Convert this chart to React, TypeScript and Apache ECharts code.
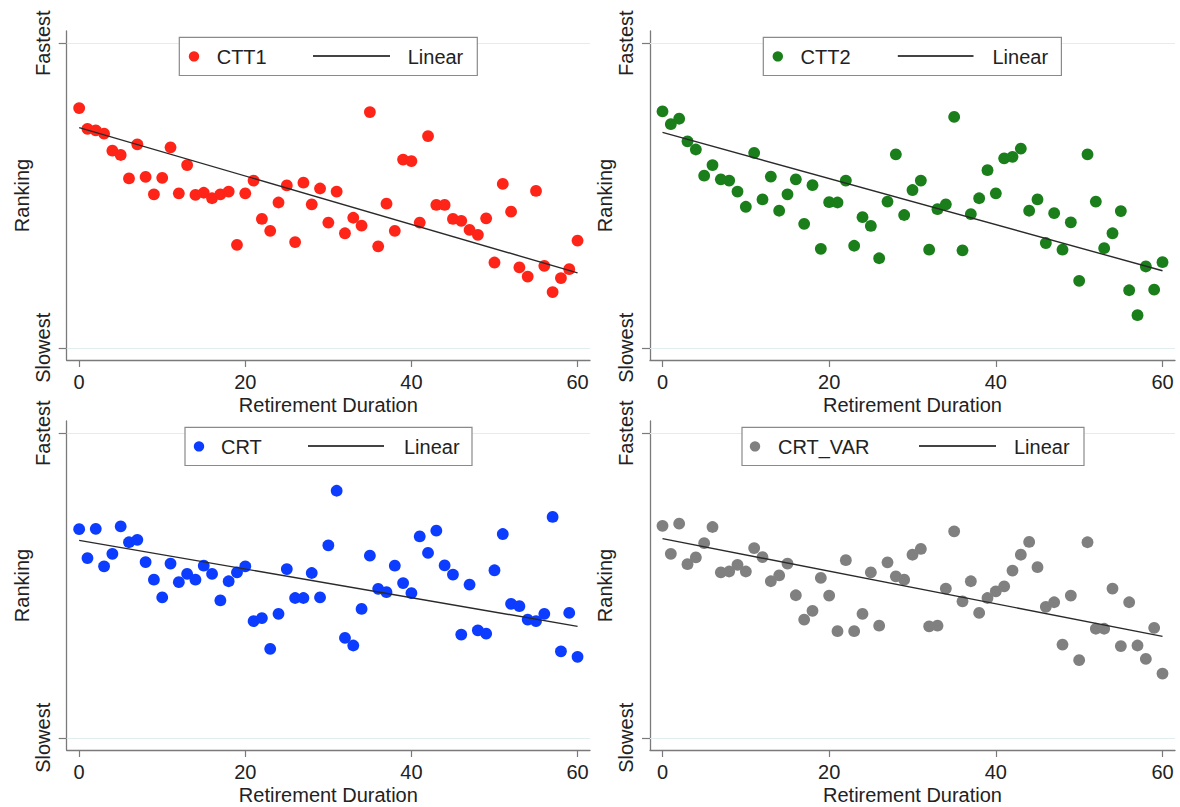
import React, { useEffect, useRef } from "react";
import * as echarts from "echarts";

// ---------- data ----------
const duration = [
  0, 1, 2, 3, 4, 5, 6, 7, 8, 9, 10, 11, 12, 13, 14, 15, 16, 17, 18, 19, 20,
  21, 22, 23, 24, 25, 26, 27, 28, 29, 30, 31, 32, 33, 34, 35, 36, 37, 38, 39, 40,
  41, 42, 43, 44, 45, 46, 47, 48, 49, 50, 51, 52, 53, 54, 55, 56, 57, 58, 59, 60,
];

const ctt1 = [
  78.7, 71.9, 71.4, 70.3, 64.7, 63.3, 55.6, 66.8, 56.1, 50.4,
  55.8, 65.8, 50.7, 60.0, 50.2, 50.9, 49.1, 50.4, 51.3, 33.8,
  50.7, 54.9, 42.3, 38.4, 47.7, 53.3, 34.7, 54.2, 47.1, 52.3,
  41.1, 51.3, 37.6, 42.7, 40.1, 77.4, 33.3, 47.3, 38.4, 61.8,
  61.3, 41.1, 69.5, 46.9, 46.9, 42.3, 41.7, 38.7, 37.1, 42.5,
  28.0, 53.8, 44.7, 26.4, 23.4, 51.5, 26.9, 18.3, 22.9, 25.8, 35.2,
];

const ctt2 = [
  77.6, 73.4, 75.2, 67.8, 65.1, 56.5, 60.0, 55.3, 54.9, 51.3,
  46.3, 64.0, 48.7, 56.2, 45.0, 50.4, 55.3, 40.7, 53.4, 32.5,
  47.8, 47.7, 54.9, 33.5, 42.9, 40.0, 29.4, 48.0, 63.5, 43.6,
  51.8, 54.9, 32.2, 45.5, 47.1, 75.8, 32.0, 43.9, 49.1, 58.3,
  50.7, 62.2, 62.7, 65.4, 45.0, 48.7, 34.4, 44.2, 32.2, 41.2,
  22.0, 63.5, 48.0, 32.7, 37.6, 44.9, 18.9, 10.7, 26.7, 19.1, 28.1,
];

const crt = [
  68.5, 59.0, 68.6, 56.3, 60.4, 69.4, 64.2, 65.0, 57.7, 51.9,
  46.1, 57.2, 51.1, 53.8, 51.9, 56.5, 53.8, 45.1, 51.4, 54.3,
  56.3, 38.3, 39.3, 29.2, 40.7, 55.4, 45.9, 45.9, 54.1, 46.1,
  63.2, 81.1, 32.8, 30.3, 42.3, 59.8, 48.9, 47.8, 56.5, 50.8,
  47.5, 66.1, 60.7, 68.0, 56.6, 53.6, 33.9, 50.3, 35.3, 34.2,
  55.0, 66.9, 44.0, 43.2, 38.8, 38.3, 40.7, 72.5, 28.4, 41.0, 26.6,
];

const crtVar = [
  69.6, 60.4, 70.3, 57.0, 59.2, 63.9, 69.2, 54.3, 54.6, 56.8,
  54.6, 62.3, 59.3, 51.4, 53.3, 57.2, 46.8, 38.8, 41.7, 52.5,
  46.7, 35.0, 58.3, 35.0, 40.7, 54.3, 36.8, 57.6, 53.0, 51.9,
  60.1, 62.0, 36.6, 36.8, 49.0, 67.8, 44.8, 51.4, 41.0, 45.9,
  48.1, 49.7, 54.9, 60.1, 64.3, 56.0, 43.0, 44.5, 30.6, 46.7,
  25.5, 64.2, 35.8, 35.8, 49.0, 30.1, 44.5, 30.3, 25.9, 36.1, 21.1,
];

// linear fit lines, read at both ends (x = 0 and x = 60)
const fitX = [0, 60];
const fitCtt1 = [72.3, 24.6];
const fitCtt2 = [70.7, 25.3];
const fitCrt = [64.8, 36.6];
const fitCrtVar = [65.4, 33.3];

const seriesNames = ["CTT1", "CTT2", "CRT", "CRT_VAR"];
const fitName = "Linear";
const xTicks = [0, 20, 40, 60];
const yTickValues = [0, 100];
const yTickLabels = ["Slowest", "Fastest"];
const xAxisName = "Retirement Duration";
const yAxisName = "Ranking";

// ---------- layout / styling ----------
const FONT = '"Liberation Sans", Arial, Helvetica, sans-serif';
const TEXT = "#222";
const AXIS = "#7a7a7a";
const colors = ["#ff2418", "#1a7f1a", "#0b3cff", "#808080"];

const grids = [
  { left: 66.7, top: 31, width: 523.3, height: 329 },
  { left: 650, top: 31, width: 525, height: 329 },
  { left: 66.7, top: 421, width: 523.3, height: 329 },
  { left: 650, top: 421, width: 525, height: 329 },
];

const legends = [
  { boxL: 179.3, boxR: 477.3, top: 37.3, bottom: 75.5, dot: 194, text: 216.7, l1: 313, l2: 390, lin: 407.7 },
  { boxL: 763.3, boxR: 1061.4, top: 37.3, bottom: 75.5, dot: 777.8, text: 800.5, l1: 897.8, l2: 973.5, lin: 992.5 },
  { boxL: 185, boxR: 472, top: 427.3, bottom: 465.5, dot: 199, text: 221, l1: 308, l2: 384, lin: 404 },
  { boxL: 742, boxR: 1084, top: 427.3, bottom: 465.5, dot: 755, text: 778, l1: 919, l2: 996, lin: 1014 },
];

export default function App() {
  const ref = useRef<HTMLDivElement>(null);

  useEffect(() => {
    if (!ref.current) return;
    const chart = echarts.init(ref.current, undefined, { renderer: "svg" });

    const values = [ctt1, ctt2, crt, crtVar];
    const fits = [fitCtt1, fitCtt2, fitCrt, fitCrtVar];

    const xAxes = grids.map((_, i) => ({
      type: "value",
      gridIndex: i,
      min: -1.5,
      max: 61.5,
      name: xAxisName,
      nameLocation: "middle",
      nameGap: 35,
      nameTextStyle: { fontSize: 20, color: TEXT, fontFamily: FONT },
      axisLine: { show: true, onZero: false, lineStyle: { color: AXIS, width: 1.3 } },
      axisTick: { show: true, length: 7, customValues: xTicks, lineStyle: { color: AXIS, width: 1.2 } },
      axisLabel: { show: true, customValues: xTicks, fontSize: 20, margin: 12, color: TEXT, fontFamily: FONT },
      splitLine: { show: false },
    }));

    const yAxes = grids.map((_, i) => ({
      type: "value",
      gridIndex: i,
      min: -4,
      max: 104,
      name: yAxisName,
      nameLocation: "middle",
      nameGap: 35,
      nameTextStyle: { fontSize: 20, color: TEXT, fontFamily: FONT },
      axisLine: { show: true, onZero: false, lineStyle: { color: AXIS, width: 1.3 } },
      axisTick: { show: true, length: 8, customValues: yTickValues, lineStyle: { color: AXIS, width: 1.2 } },
      axisLabel: {
        show: true,
        customValues: yTickValues,
        rotate: 90,
        fontSize: 20,
        margin: 14,
        color: TEXT,
        fontFamily: FONT,
        formatter: (v: number) => {
          const k = yTickValues.indexOf(Math.round(v));
          return k >= 0 ? yTickLabels[k] : "";
        },
      },
      splitLine: { show: false },
    }));

    const series: any[] = [];
    values.forEach((vals, i) => {
      series.push({
        type: "scatter",
        name: seriesNames[i],
        xAxisIndex: i,
        yAxisIndex: i,
        data: vals.map((v, k) => [duration[k], v]),
        symbol: "circle",
        symbolSize: 11.8,
        itemStyle: { color: colors[i], opacity: 1 },
        silent: true,
        z: 3,
        markLine: {
          silent: true,
          symbol: "none",
          label: { show: false },
          lineStyle: { color: "#e2edef", width: 1, type: "solid" },
          data: yTickValues.map((v) => ({ yAxis: v })),
          z: 1,
        },
      });
      series.push({
        type: "line",
        name: fitName,
        xAxisIndex: i,
        yAxisIndex: i,
        data: fitX.map((x, k) => [x, fits[i][k]]),
        showSymbol: false,
        symbol: "none",
        lineStyle: { color: "#2a2a2a", width: 1.4 },
        silent: true,
        z: 4,
      });
    });

    const graphic: any[] = [];
    legends.forEach((lg, i) => {
      const cy = (lg.top + lg.bottom) / 2;
      graphic.push({
        type: "rect",
        z: 100,
        shape: { x: lg.boxL, y: lg.top, width: lg.boxR - lg.boxL, height: lg.bottom - lg.top },
        style: { fill: "#ffffff", stroke: "#8a8a8a", lineWidth: 1.2 },
      });
      graphic.push({
        type: "circle",
        z: 101,
        shape: { cx: lg.dot, cy: cy, r: 5.2 },
        style: { fill: colors[i] },
      });
      graphic.push({
        type: "text",
        z: 101,
        style: {
          text: seriesNames[i],
          x: lg.text,
          y: cy + 0.5,
          fill: TEXT,
          font: `20px ${FONT}`,
          textAlign: "left",
          align: "left",
          textVerticalAlign: "middle",
          verticalAlign: "middle",
        },
      });
      graphic.push({
        type: "line",
        z: 101,
        shape: { x1: lg.l1, y1: cy - 0.5, x2: lg.l2, y2: cy - 0.5 },
        style: { stroke: "#444", lineWidth: 2 },
      });
      graphic.push({
        type: "text",
        z: 101,
        style: {
          text: fitName,
          x: lg.lin,
          y: cy + 0.5,
          fill: TEXT,
          font: `20px ${FONT}`,
          textAlign: "left",
          align: "left",
          textVerticalAlign: "middle",
          verticalAlign: "middle",
        },
      });
    });

    chart.setOption({
      animation: false,
      backgroundColor: "#ffffff",
      textStyle: { fontFamily: FONT },
      grid: grids.map((g) => ({ ...g, containLabel: false })),
      xAxis: xAxes,
      yAxis: yAxes,
      series,
      graphic,
    });

    return () => chart.dispose();
  }, []);

  return (
    <div
      ref={ref}
      style={{ position: "absolute", left: 0, top: 0, width: 1180, height: 807, background: "#fff" }}
    />
  );
}
